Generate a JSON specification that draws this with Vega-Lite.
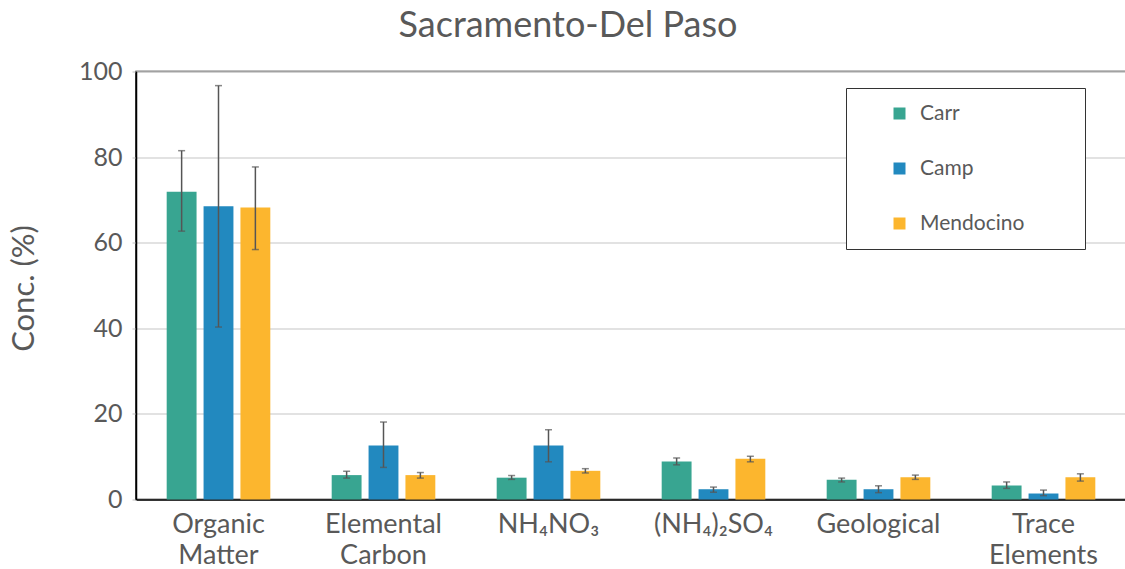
{
  "$schema": "https://vega.github.io/schema/vega-lite/v6.json",
  "autosize": "none",
  "width": 990,
  "height": 428,
  "padding": {"left": 136, "top": 71.5, "right": 0, "bottom": 69.5},
  "background": "white",
  "config": {
    "font": "Lato",
    "view": {"stroke": "#000", "strokeWidth": 1.5},
    "axis": {"labelFont": "Lato", "titleFont": "Lato", "labelColor": "#595959", "titleColor": "#595959"}
  },
  "title": {
    "text": "Sacramento-Del Paso",
    "fontSize": 36,
    "fontWeight": "normal",
    "color": "#595959",
    "font": "Lato",
    "anchor": "middle",
    "dx": -63,
    "offset": 15
  },
  "data": {
    "values": [
      {"category": "Organic Matter", "site": "Carr", "value": 71.9, "lo": 62.7, "hi": 81.5},
      {"category": "Organic Matter", "site": "Camp", "value": 68.5, "lo": 40.3, "hi": 96.7},
      {"category": "Organic Matter", "site": "Mendocino", "value": 68.2, "lo": 58.4, "hi": 77.7},
      {"category": "Elemental Carbon", "site": "Carr", "value": 5.7, "lo": 5.0, "hi": 6.6},
      {"category": "Elemental Carbon", "site": "Camp", "value": 12.6, "lo": 7.5, "hi": 18.1},
      {"category": "Elemental Carbon", "site": "Mendocino", "value": 5.7, "lo": 5.0, "hi": 6.3},
      {"category": "NH₄NO₃", "site": "Carr", "value": 5.1, "lo": 4.7, "hi": 5.6},
      {"category": "NH₄NO₃", "site": "Camp", "value": 12.6, "lo": 8.8, "hi": 16.3},
      {"category": "NH₄NO₃", "site": "Mendocino", "value": 6.7, "lo": 6.2, "hi": 7.2},
      {"category": "(NH₄)₂SO₄", "site": "Carr", "value": 8.9, "lo": 8.1, "hi": 9.7},
      {"category": "(NH₄)₂SO₄", "site": "Camp", "value": 2.4, "lo": 1.7, "hi": 2.9},
      {"category": "(NH₄)₂SO₄", "site": "Mendocino", "value": 9.5, "lo": 8.8, "hi": 10.1},
      {"category": "Geological", "site": "Carr", "value": 4.6, "lo": 4.1, "hi": 5.0},
      {"category": "Geological", "site": "Camp", "value": 2.4, "lo": 1.6, "hi": 3.2},
      {"category": "Geological", "site": "Mendocino", "value": 5.2, "lo": 4.7, "hi": 5.7},
      {"category": "Trace Elements", "site": "Carr", "value": 3.3, "lo": 2.6, "hi": 4.1},
      {"category": "Trace Elements", "site": "Camp", "value": 1.4, "lo": 0.9, "hi": 2.2},
      {"category": "Trace Elements", "site": "Mendocino", "value": 5.2, "lo": 4.3, "hi": 6.0}
    ]
  },
  "encoding": {
    "x": {
      "field": "category",
      "type": "nominal",
      "sort": ["Organic Matter", "Elemental Carbon", "NH₄NO₃", "(NH₄)₂SO₄", "Geological", "Trace Elements"],
      "scale": {"paddingInner": 0.372, "paddingOuter": 0.186},
      "axis": {
        "title": null,
        "labelAngle": 0,
        "labelFontSize": 27,
        "labelLineHeight": 31,
        "labelPadding": 12,
        "ticks": false,
        "domainColor": "#000",
        "domainWidth": 1.5,
        "labelExpr": "split(datum.label, ' ')"
      }
    },
    "xOffset": {
      "field": "site",
      "type": "nominal",
      "sort": ["Carr", "Camp", "Mendocino"],
      "scale": {"paddingInner": 0.19, "paddingOuter": 0}
    }
  },
  "layer": [
    {
      "mark": {"type": "bar"},
      "encoding": {
        "y": {
          "field": "value",
          "type": "quantitative",
          "scale": {"domain": [0, 100]},
          "axis": {
            "title": "Conc. (%)",
            "titleFontSize": 31,
            "titleFontWeight": "normal",
            "titleX": -112,
            "titleY": 216.5,
            "titleAngle": -90,
            "titleAlign": "center",
            "titleBaseline": "middle",
            "values": [0, 20, 40, 60, 80, 100],
            "labelFontSize": 25,
            "labelPadding": 10,
            "tickSize": 4,
            "tickColor": "#bfbfbf",
            "gridColor": "#d9d9d9",
            "gridWidth": 1.3,
            "domainColor": "#000",
            "domainWidth": 1.5
          }
        },
        "color": {
          "field": "site",
          "type": "nominal",
          "sort": ["Carr", "Camp", "Mendocino"],
          "scale": {"domain": ["Carr", "Camp", "Mendocino"], "range": ["#38a591", "#2289bf", "#fcb62e"]},
          "legend": {
            "title": null,
            "orient": "none",
            "legendX": 710,
            "legendY": 16.5,
            "strokeColor": "#333",
            "fillColor": "white",
            "padding": 15,
            "symbolType": "square",
            "symbolSize": 144,
            "symbolStrokeWidth": 0,
            "symbolOpacity": 1,
            "symbolOffset": 28,
            "labelOffset": 10,
            "labelFontSize": 21,
            "labelFont": "Lato",
            "labelColor": "#595959",
            "rowPadding": 33,
            "labelExpr": "datum.label + '\u2800\u2800\u2800'"
          }
        }
      }
    },
    {
      "mark": {"type": "rule", "color": "#555555", "strokeWidth": 1.5},
      "encoding": {
        "y": {"field": "lo", "type": "quantitative"},
        "y2": {"field": "hi"}
      }
    },
    {
      "mark": {"type": "tick", "color": "#555555", "thickness": 1.5, "size": 7},
      "encoding": {"y": {"field": "lo", "type": "quantitative"}}
    },
    {
      "mark": {"type": "tick", "color": "#555555", "thickness": 1.5, "size": 7},
      "encoding": {"y": {"field": "hi", "type": "quantitative"}}
    }
  ]
}
